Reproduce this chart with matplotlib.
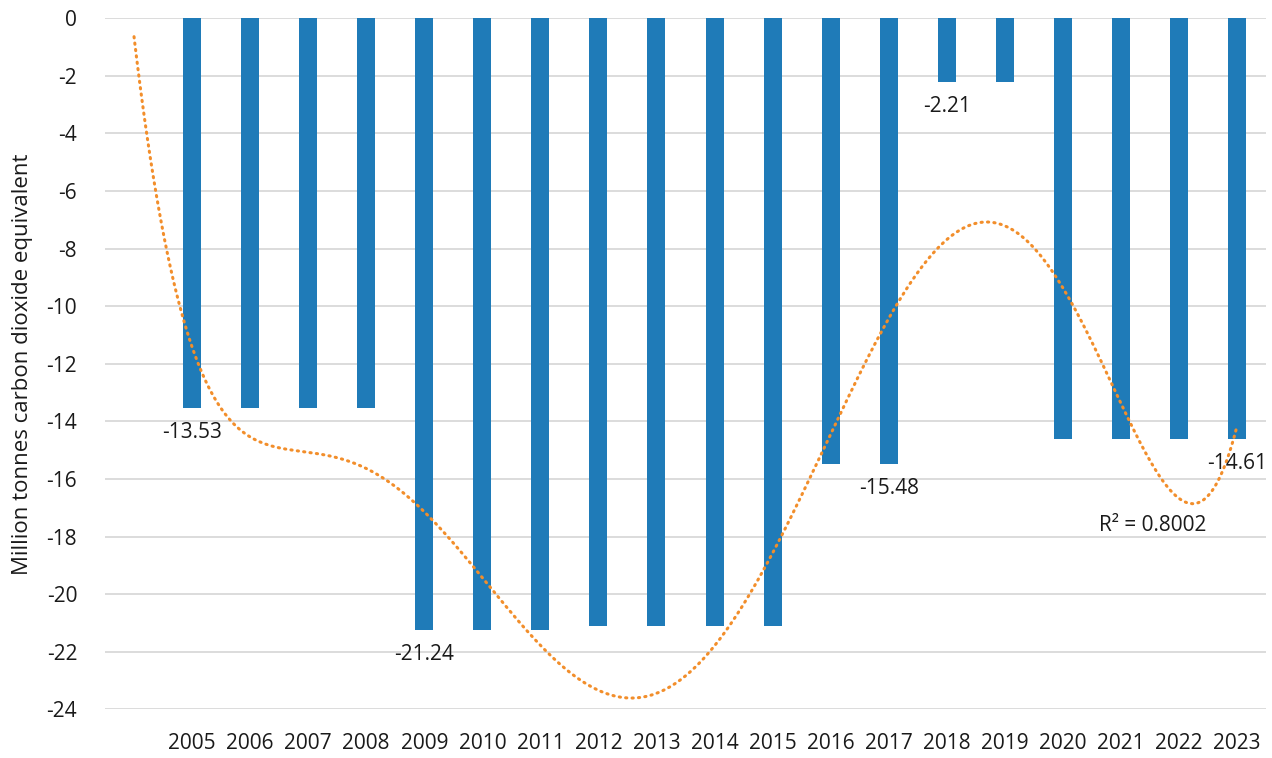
import numpy as np
import matplotlib
matplotlib.use("Agg")
import matplotlib.pyplot as plt

plt.rcParams["font.family"] = ["Open Sans", "DejaVu Sans"]
plt.rcParams["axes.unicode_minus"] = False

# ---- data ----
years = ["", "2005", "2006", "2007", "2008", "2009", "2010", "2011", "2012",
         "2013", "2014", "2015", "2016", "2017", "2018", "2019", "2020",
         "2021", "2022", "2023"]
values = [0.0, -13.53, -13.53, -13.53, -13.53, -21.24, -21.24, -21.24, -21.12,
          -21.12, -21.12, -21.12, -15.48, -15.48, -2.21, -2.21, -14.61,
          -14.61, -14.61, -14.61]
labelled = ["2005", "2009", "2017", "2018", "2023"]

BAR_COLOR = "#1f7bb8"
TREND_COLOR = "#f28e2b"
TEXT_COLOR = "#1a1a1a"
FS = 15

x = np.arange(len(years))
y = np.array(values)

# polynomial trendline (order 6), as in the spreadsheet
coef = np.polyfit(x + 1, y, 6)
fit = np.polyval(coef, x + 1)
r2 = 1 - np.sum((y - fit) ** 2) / np.sum((y - y.mean()) ** 2)
print("R2 =", r2)

fig = plt.figure(figsize=(12.72, 7.58), dpi=100)
ax = fig.add_axes([105 / 1272, 1 - 709.3 / 758, (1266 - 105) / 1272, (709.3 - 18.3) / 758])

mask = np.array([yr != "" for yr in years])
ax.bar(x[mask], y[mask], width=0.31, color=BAR_COLOR, zorder=2)

xs = np.linspace(x[0], x[-1], 400)
ax.plot(xs, np.polyval(coef, xs + 1), color=TREND_COLOR, lw=2.2,
        linestyle=(0, (0.4, 1.7)), dash_capstyle="round", zorder=3)

for xi, yi, yr in zip(x, y, years):
    if yr in labelled:
        ax.annotate(f"{yi:.2f}", (xi, yi), xytext=(0, -10), textcoords="offset points",
                    ha="center", va="top", fontsize=FS, color=TEXT_COLOR)

ax.text(17.55, -17.63, "R² = 0.8002", ha="center", va="center",
        fontsize=FS, color=TEXT_COLOR)

ax.set_xlim(-0.5, len(years) - 0.5)
ax.set_ylim(-24, 0)
ax.set_yticks(np.arange(-24, 1, 2))
ax.set_xticks(x)
ax.set_xticklabels(years)
ax.tick_params(axis="both", length=0, labelsize=FS, colors=TEXT_COLOR)
ax.tick_params(axis="y", pad=20)
ax.tick_params(axis="x", pad=17)
ax.yaxis.grid(True, color="#d9d9d9", lw=1.3, zorder=0)
ax.set_axisbelow(True)
for s in ax.spines.values():
    s.set_visible(False)
ax.set_ylabel("Million tonnes carbon dioxide equivalent", fontsize=16,
              color=TEXT_COLOR, labelpad=10)

fig.savefig("out.png", dpi=100)
